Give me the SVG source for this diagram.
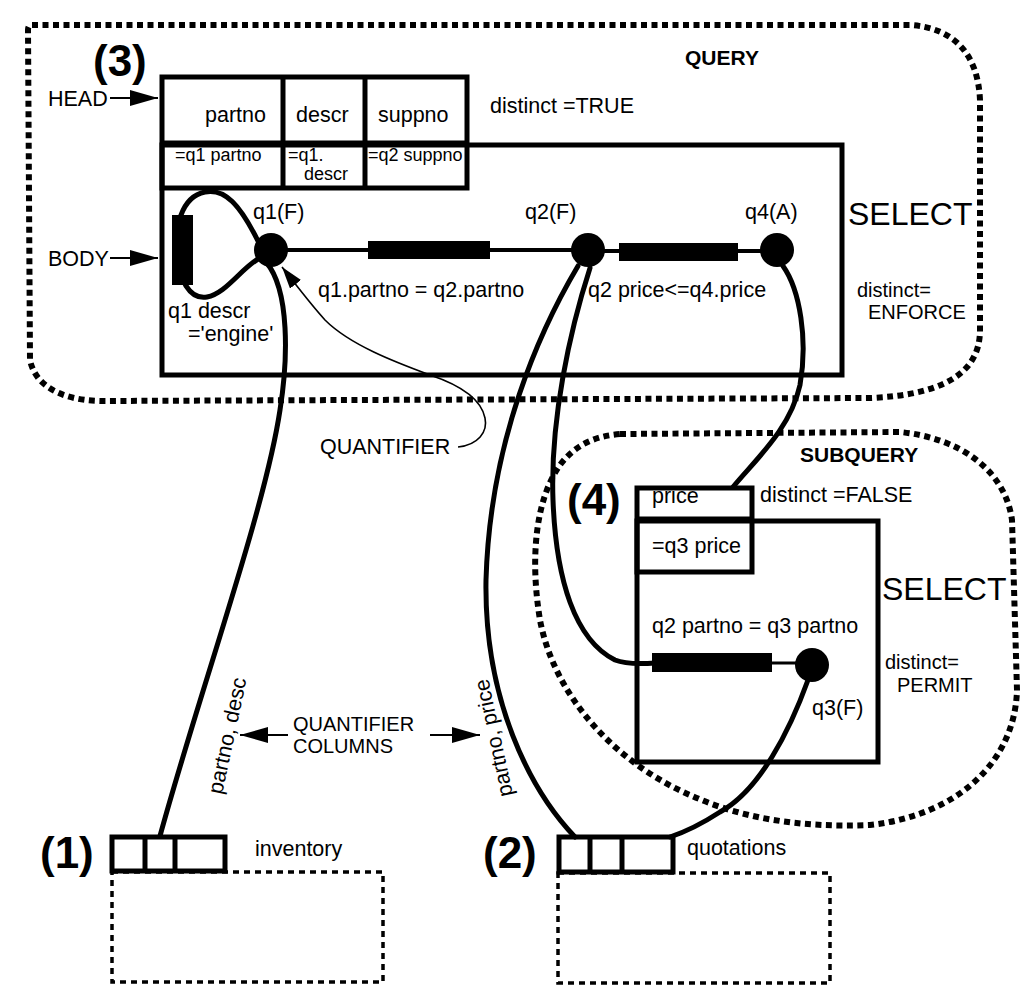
<svg xmlns="http://www.w3.org/2000/svg" width="1028" height="1000" viewBox="0 0 1028 1000">
<style>
text{font-family:"Liberation Sans",Arial,sans-serif;fill:#000}
.t{font-size:21.5px}
.m{font-size:20px}
.s{font-size:18px}
.b{font-size:21px;font-weight:bold}
.big{font-size:32px}
.num{font-size:44px;font-weight:bold}
.box{fill:none;stroke:#000;stroke-width:5}
.dotb{fill:none;stroke:#000;stroke-width:6;stroke-dasharray:6 4.5}
.dott{fill:none;stroke:#000;stroke-width:3.5;stroke-dasharray:6 5}
.cv{fill:none;stroke:#000;stroke-width:5;stroke-linecap:round}
.ln{fill:none;stroke:#000;stroke-width:4}
.thin{fill:none;stroke:#000;stroke-width:1.6}
.bar{fill:#000}
</style>
<defs>
<marker id="ah" viewBox="0 0 28 16" refX="28" refY="8" markerWidth="28" markerHeight="16" markerUnits="userSpaceOnUse" orient="auto"><path d="M0,0 L28,8 L0,16 z" fill="#000"/></marker>
<marker id="ah2" viewBox="0 0 22 14" refX="22" refY="7" markerWidth="22" markerHeight="14" markerUnits="userSpaceOnUse" orient="auto"><path d="M0,0 L22,7 L0,14 z" fill="#000"/></marker>
</defs>

<g id="query-boundary">
<path class="dotb" d="M32 25 L910 25 C955 28 978 55 980 100 L980 330 C980 375 940 395 870 398 L100 401 C60 400 35 385 30 360 L28 30 Q28 25 32 25 Z"/>
<text class="b" x="685" y="65">QUERY</text>
</g>

<g id="subquery-boundary">
<path class="dotb" d="M620 434 L900 432 C960 438 1005 470 1012 520 L1017 690 C1015 760 960 815 870 825 C800 828 740 818 690 795 C620 765 555 700 540 620 C530 560 535 500 560 465 C575 445 595 436 620 434 Z"/>
<text class="b" x="800" y="462">SUBQUERY</text>
</g>

<g id="query-select">
<rect class="box" x="162" y="145" width="680" height="230"/>
<text class="big" x="848" y="225">SELECT</text>
<text class="m" x="857" y="297">distinct=</text>
<text class="m" x="868" y="319">ENFORCE</text>
</g>

<g id="query-head">
<rect class="box" x="162" y="77" width="305" height="111"/>
<line class="box" x1="162" y1="143" x2="467" y2="143"/>
<line class="box" x1="283" y1="77" x2="283" y2="188"/>
<line class="box" x1="365" y1="77" x2="365" y2="188"/>
<text class="t" x="205" y="122">partno</text>
<text class="t" x="296" y="122">descr</text>
<text class="t" x="378" y="122">suppno</text>
<text class="s" x="175" y="161">=q1 partno</text>
<text class="s" x="288" y="161">=q1.</text>
<text class="s" x="304" y="180">descr</text>
<text class="s" x="368" y="161">=q2 suppno</text>
<text class="t" x="490" y="113">distinct =TRUE</text>
<text class="num" x="93" y="76">(3)</text>
</g>

<g id="head-label">
<text class="t" x="48" y="106">HEAD</text>
</g>
<g id="body-label">
<text class="t" x="48" y="266">BODY</text>
</g>

<g id="q1">
<path class="cv" d="M258 241 C240 205 225 188 205 192 C180 197 175 230 177 250 C178 280 190 300 207 297 C225 294 240 270 258 259"/>
<rect class="bar" x="172" y="215" width="21" height="70"/>
<circle cx="271" cy="250" r="17"/>
<text class="t" x="253" y="219">q1(F)</text>
<text class="t" x="168" y="318">q1 descr</text>
<text class="t" x="188" y="341">='engine'</text>
</g>

<g id="q2">
<circle cx="588" cy="250" r="17"/>
<text class="t" x="525" y="219">q2(F)</text>
</g>

<g id="q4">
<circle cx="777" cy="250" r="17"/>
<text class="t" x="745" y="219">q4(A)</text>
</g>

<g id="pred-q1-q2">
<line class="ln" x1="271" y1="250" x2="588" y2="250"/>
<rect class="bar" x="368" y="241" width="122" height="18"/>
<text class="t" x="318" y="297">q1.partno = q2.partno</text>
</g>

<g id="pred-q2-q4">
<line class="ln" x1="588" y1="251" x2="777" y2="251"/>
<rect class="bar" x="619" y="243" width="119" height="18"/>
<text class="t" x="588" y="297">q2 price&lt;=q4.price</text>
</g>

<g id="sub-head">
<rect class="box" x="637" y="488" width="115" height="84"/>
<line class="box" x1="637" y1="519" x2="752" y2="519"/>
<text class="t" x="652" y="503">price</text>
<text class="t" x="652" y="553">=q3 price</text>
<text class="t" x="760" y="502">distinct =FALSE</text>
<text class="num" x="567" y="515">(4)</text>
</g>

<g id="sub-select">
<rect class="box" x="637" y="521" width="241" height="241"/>
<text class="big" x="882" y="600">SELECT</text>
<text class="m" x="885" y="669">distinct=</text>
<text class="m" x="897" y="692">PERMIT</text>
</g>

<g id="q3">
<line class="ln" x1="772" y1="663" x2="812" y2="663" style="stroke-width:3"/>
<rect class="bar" x="652" y="653" width="120" height="19"/>
<circle cx="812" cy="665" r="17"/>
<text class="t" x="652" y="633">q2 partno = q3 partno</text>
<text class="t" x="812" y="715">q3(F)</text>
</g>

<g id="inventory">
<rect class="dott" x="112" y="872" width="271" height="110"/>
<rect class="box" x="112" y="837" width="113" height="34" style="fill:#fff"/>
<line class="box" x1="145" y1="837" x2="145" y2="871"/>
<line class="box" x1="175" y1="837" x2="175" y2="871"/>
<text class="t" x="255" y="856">inventory</text>
<text class="num" x="40" y="868">(1)</text>
</g>

<g id="quotations">
<rect class="dott" x="558" y="873" width="272" height="110"/>
<rect class="box" x="559" y="837" width="114" height="35" style="fill:#fff"/>
<line class="box" x1="590" y1="837" x2="590" y2="872"/>
<line class="box" x1="622" y1="837" x2="622" y2="872"/>
<text class="t" x="687" y="855">quotations</text>
<text class="num" x="483" y="868">(2)</text>
</g>

<g id="annotations">
<text class="t" x="320" y="454">QUANTIFIER</text>
<text class="m" x="293" y="731">QUANTIFIER</text>
<text class="m" x="293" y="753">COLUMNS</text>
<text class="t" transform="translate(222 795) rotate(-78)">partno, desc</text>
<text class="t" transform="translate(513 795) rotate(-102)">partno, price</text>
</g>

<g id="connectors">
<path class="cv" d="M266 262 C290 290 288 360 280 410 C265 510 200 690 160 836"/>
<path class="cv" d="M578 266 C540 330 490 440 486 580 C484 700 530 790 575 837"/>
<path class="cv" d="M590 268 C570 330 550 420 553 500 C556 580 575 640 615 660 C625 664 640 664 655 663"/>
<path class="cv" d="M783 266 C800 290 808 340 800 385 C790 430 755 460 733 487"/>
<path class="cv" d="M808 680 C790 730 760 790 720 812 C700 825 685 832 670 837"/>
<path class="thin" d="M458 447 C478 445 488 432 485 418 C481 398 460 385 430 375 C395 362 350 345 325 320 C312 306 300 290 282 267" marker-end="url(#ah2)"/>
<line class="thin" x1="110" y1="98" x2="158" y2="98" style="stroke-width:2" marker-end="url(#ah)"/>
<line class="thin" x1="110" y1="258" x2="158" y2="258" style="stroke-width:2" marker-end="url(#ah)"/>
<line class="thin" x1="288" y1="735" x2="240" y2="735" style="stroke-width:2" marker-end="url(#ah)"/>
<line class="thin" x1="430" y1="735" x2="480" y2="735" style="stroke-width:2" marker-end="url(#ah)"/>
</g>
</svg>
